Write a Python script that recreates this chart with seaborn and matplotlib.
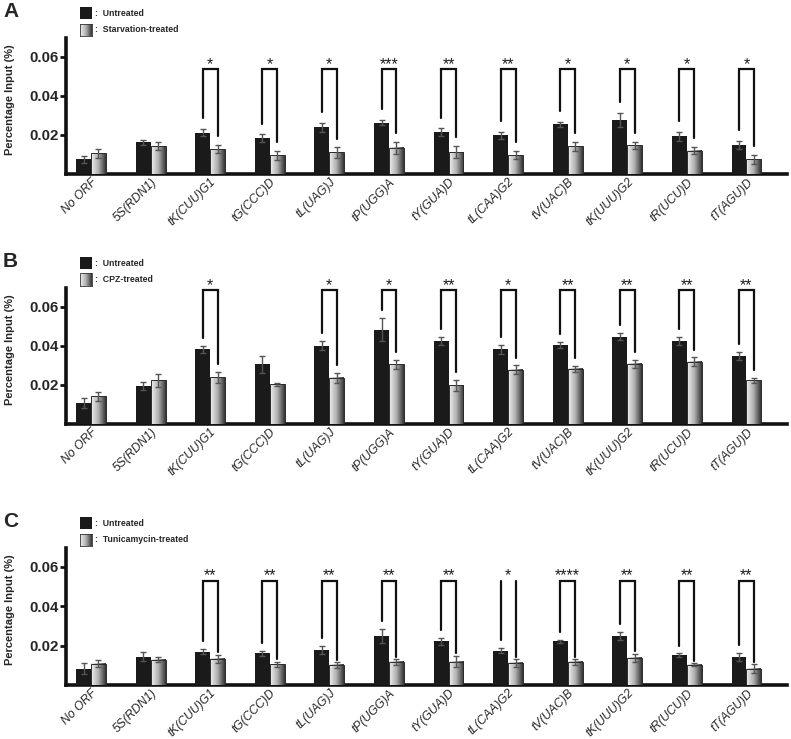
import numpy as np
import pandas as pd
import matplotlib
matplotlib.use("Agg")
import matplotlib.pyplot as plt
import seaborn as sns
from matplotlib.colors import LinearSegmentedColormap
from matplotlib.patches import Rectangle

targets = ['No ORF', '5S(RDN1)', 'tK(CUU)G1', 'tG(CCC)D', 'tL(UAG)J', 'tP(UGG)A',
           'tY(GUA)D', 'tL(CAA)G2', 'tV(UAC)B', 'tK(UUU)G2', 'tR(UCU)D', 'tT(AGU)D']
panel_letters = ['A', 'B', 'C']
control_label = 'Untreated'
treatment_labels = ['Starvation-treated', 'CPZ-treated', 'Tunicamycin-treated']

# Panel A
a_untreated = [0.0075, 0.0161, 0.0212, 0.0183, 0.0239, 0.0263, 0.0214, 0.0197, 0.0253, 0.0278, 0.0192, 0.0148]
a_untreated_err = [0.0017, 0.0014, 0.0017, 0.0019, 0.0024, 0.0015, 0.0019, 0.0018, 0.0013, 0.0036, 0.0022, 0.0022]
a_treated = [0.0105, 0.0143, 0.0127, 0.0095, 0.0110, 0.0134, 0.0112, 0.0097, 0.0141, 0.0146, 0.0120, 0.0075]
a_treated_err = [0.0025, 0.0018, 0.0022, 0.0024, 0.0026, 0.0030, 0.0030, 0.0019, 0.0023, 0.0020, 0.0020, 0.0023]
a_sig = ['', '', '*', '*', '*', '***', '**', '**', '*', '*', '*', '*']

# Panel B
b_untreated = [0.0108, 0.0196, 0.0381, 0.0305, 0.0400, 0.0482, 0.0425, 0.0381, 0.0405, 0.0447, 0.0425, 0.0348]
b_untreated_err = [0.0024, 0.0020, 0.0017, 0.0044, 0.0024, 0.0060, 0.0020, 0.0025, 0.0015, 0.0017, 0.0019, 0.0020]
b_treated = [0.0142, 0.0223, 0.0238, 0.0202, 0.0236, 0.0305, 0.0197, 0.0277, 0.0282, 0.0307, 0.0317, 0.0223]
b_treated_err = [0.0023, 0.0032, 0.0029, 0.0010, 0.0027, 0.0022, 0.0029, 0.0022, 0.0015, 0.0020, 0.0023, 0.0011]
b_sig = ['', '', '*', '', '*', '*', '**', '*', '**', '**', '**', '**']

# Panel C
c_untreated = [0.0083, 0.0144, 0.0169, 0.0161, 0.0178, 0.0248, 0.0221, 0.0174, 0.0221, 0.0248, 0.0150, 0.0142]
c_untreated_err = [0.0029, 0.0022, 0.0014, 0.0012, 0.0020, 0.0036, 0.0017, 0.0012, 0.0009, 0.0022, 0.0010, 0.0021]
c_treated = [0.0109, 0.0129, 0.0134, 0.0104, 0.0102, 0.0117, 0.0119, 0.0112, 0.0117, 0.0137, 0.0102, 0.0083]
c_treated_err = [0.0018, 0.0013, 0.0020, 0.0015, 0.0015, 0.0015, 0.0030, 0.0020, 0.0015, 0.0022, 0.0008, 0.0024]
c_sig = ['', '', '**', '**', '**', '**', '**', '*', '****', '**', '**', '**']

yticks = [0.02, 0.04, 0.06]
ytick_labels = ['0.02', '0.04', '0.06']

# ---------------- layout / style ----------------
sns.set_style("ticks")
plt.rcParams['font.family'] = ['Liberation Sans', 'DejaVu Sans']

W, H = 791, 739
fig = plt.figure(figsize=(W / 100, H / 100), dpi=100)

axes_top_px = [38, 288, 548]
axes_bot_px = [174, 424, 685]
ax_left_px, ax_right_px = 66, 787
bracket_tops = [0.0535, 0.0684, 0.0530]
leg_gaps = [(0.0055, 0.0045), (0.004, 0.004), (0.004, 0.0012)]
open_brackets = [[], [], ['tL(CAA)G2']]

black = '#1a1a1a'
grad_cmap = LinearSegmentedColormap.from_list('g', ['#f0f0f0', '#b0b0b0', '#333333'])
grad = np.linspace(0, 1, 128)[None, :]

panels = [
    (a_untreated, a_untreated_err, a_treated, a_treated_err, a_sig),
    (b_untreated, b_untreated_err, b_treated, b_treated_err, b_sig),
    (c_untreated, c_untreated_err, c_treated, c_treated_err, c_sig),
]


def fx(x):
    return x / W


def fy(y):
    return 1 - y / H


for k, (yu, eu, yt, et, sig) in enumerate(panels):
    tlab = treatment_labels[k]
    top, bot = axes_top_px[k], axes_bot_px[k]
    ax = fig.add_axes([fx(ax_left_px), fy(bot), fx(ax_right_px) - fx(ax_left_px), (bot - top) / H])

    df = pd.DataFrame({
        'target': targets * 2,
        'condition': [control_label] * len(targets) + [tlab] * len(targets),
        'value': list(yu) + list(yt),
    })
    sns.barplot(data=df, x='target', y='value', hue='condition',
                hue_order=[control_label, tlab], order=targets,
                palette={control_label: black, tlab: '#999999'},
                width=0.5, errorbar=None, legend=False, ax=ax,
                linewidth=0, saturation=1)

    bars_u = list(ax.containers[0])
    bars_t = list(ax.containers[1])
    for p in bars_u:
        p.set_zorder(3)
    for p in bars_t:
        x0, y0, w, h = p.get_x(), p.get_y(), p.get_width(), p.get_height()
        ax.imshow(grad, cmap=grad_cmap, extent=(x0, x0 + w, y0, y0 + h),
                  aspect='auto', zorder=2.9, interpolation='bilinear')
        p.set_facecolor('none')
        p.set_edgecolor('#2a2a2a')
        p.set_linewidth(0.7)
        p.set_zorder(3)

    xu = [p.get_x() + p.get_width() / 2 for p in bars_u]
    xt = [p.get_x() + p.get_width() / 2 for p in bars_t]
    ax.errorbar(xu, yu, yerr=eu, fmt='none', ecolor='#555555', elinewidth=1,
                capsize=2, capthick=1, zorder=4)
    ax.errorbar(xt, yt, yerr=et, fmt='none', ecolor='#555555', elinewidth=1,
                capsize=2, capthick=1, zorder=4)

    # significance brackets
    btop = bracket_tops[k]
    gl, gr = leg_gaps[k]
    for i, s in enumerate(sig):
        if not s:
            continue
        yl = yu[i] + eu[i] + gl
        yr = yt[i] + et[i] + gr
        if targets[i] in open_brackets[k]:
            ax.plot([xu[i], xu[i]], [yl, btop], color='#111111', lw=1.6, clip_on=False, zorder=5)
            ax.plot([xt[i], xt[i]], [yr, btop], color='#111111', lw=1.6, clip_on=False, zorder=5)
        else:
            ax.plot([xu[i], xu[i], xt[i], xt[i]], [yl, btop, btop, yr],
                    color='#111111', lw=1.6, clip_on=False, zorder=5,
                    solid_joinstyle='miter')
        ax.annotate(s, xy=((xu[i] + xt[i]) / 2, btop), xytext=(0, 0.3),
                    textcoords='offset points', ha='center', va='baseline',
                    fontsize=11.5, color='#1e1e1e', annotation_clip=False)

    ax.set_xlim(-0.42, 11.68)
    ax.set_ylim(0, 0.0695)
    sns.despine(ax=ax)
    for side in ['left', 'bottom']:
        ax.spines[side].set_linewidth(2.6)
        ax.spines[side].set_color('#111111')
    ax.set_yticks(yticks)
    ax.set_yticklabels(ytick_labels, fontsize=10.8, fontweight='bold')
    ax.tick_params(axis='y', length=4, width=2, pad=1, color='#111111')
    ax.tick_params(axis='x', length=0, pad=1.5)
    ax.set_xticks(range(len(targets)))
    ax.set_xticklabels(targets, rotation=45, ha='right', rotation_mode='anchor',
                       fontsize=8.7, fontstyle='italic')
    ax.set_xlabel('')
    ax.set_ylabel('Percentage Input (%)', fontsize=8, fontweight='bold')
    ax.yaxis.set_label_coords(-0.071, 0.55)

    # panel letter
    fig.text(fx(3), fy(top - 36), panel_letters[k], fontsize=15, fontweight='bold',
             ha='left', va='top')

    # legend
    sq_x0, sq_w = 80, 12
    b_top, b_bot = top - 31, top - 19
    g_top, g_bot = top - 14.5, top - 2
    fig.add_artist(Rectangle((fx(sq_x0), fy(b_bot)), sq_w / W, (b_bot - b_top) / H,
                             transform=fig.transFigure, facecolor=black, edgecolor='none'))
    lax = fig.add_axes([fx(sq_x0), fy(g_bot), sq_w / W, (g_bot - g_top) / H])
    lax.imshow(grad, cmap=grad_cmap, aspect='auto', interpolation='bilinear')
    lax.set_xticks([])
    lax.set_yticks([])
    for sp in lax.spines.values():
        sp.set_linewidth(0.6)
        sp.set_color('#333333')
    fig.text(fx(95), fy((b_top + b_bot) / 2), ':  ' + control_label, fontsize=6.3,
             fontweight='bold', ha='left', va='center')
    fig.text(fx(95), fy((g_top + g_bot) / 2), ':  ' + tlab, fontsize=6.3,
             fontweight='bold', ha='left', va='center')

fig.savefig('out.png', dpi=100)
